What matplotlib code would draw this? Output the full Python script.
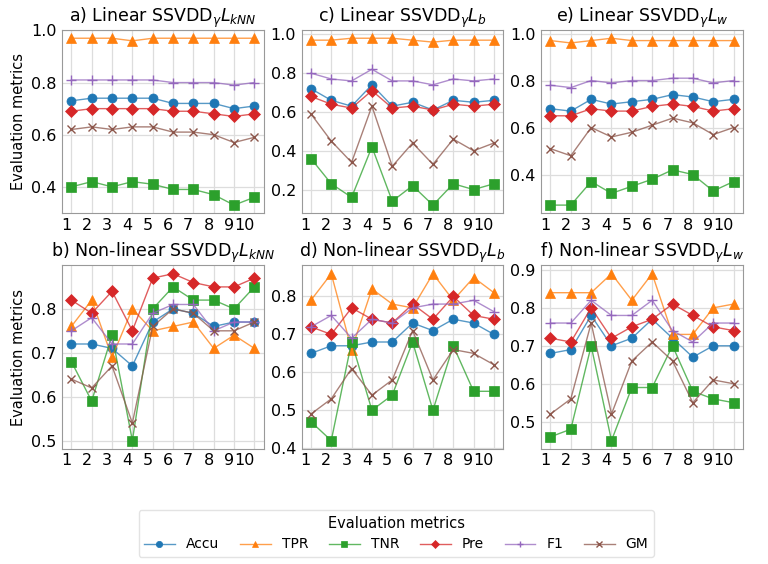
import matplotlib
matplotlib.use("Agg")
import matplotlib.pyplot as plt
import numpy as np

x = list(range(1, 11))
metrics = ["Accu", "TPR", "TNR", "Pre", "F1", "GM"]

# a) Linear kNN
a_accu = [.73, .74, .74, .74, .74, .72, .72, .72, .70, .71]
a_tpr = [.97, .97, .97, .96, .97, .97, .97, .97, .97, .97]
a_tnr = [.40, .42, .40, .42, .41, .39, .39, .37, .33, .36]
a_pre = [.69, .70, .70, .70, .70, .69, .69, .68, .67, .68]
a_f1 = [.81, .81, .81, .81, .81, .80, .80, .80, .79, .80]
a_gm = [.62, .63, .62, .63, .63, .61, .61, .60, .57, .59]

# b) Non-linear kNN
b_accu = [.72, .72, .71, .67, .77, .80, .79, .76, .77, .77]
b_tpr = [.76, .82, .69, .80, .75, .76, .77, .71, .74, .71]
b_tnr = [.68, .59, .74, .50, .80, .85, .82, .82, .80, .85]
b_pre = [.82, .79, .84, .75, .87, .88, .86, .85, .85, .87]
b_f1 = [.75, .78, .72, .72, .79, .81, .81, .75, .77, .77]
b_gm = [.64, .62, .67, .54, .76, .80, .79, .75, .75, .77]

# c) Linear Lb
c_accu = [.72, .66, .63, .74, .63, .65, .61, .66, .65, .66]
c_tpr = [.97, .97, .98, .98, .98, .97, .96, .97, .97, .97]
c_tnr = [.36, .23, .16, .42, .14, .22, .12, .23, .20, .23]
c_pre = [.68, .64, .62, .71, .62, .63, .61, .64, .63, .64]
c_f1 = [.80, .77, .76, .82, .76, .76, .74, .77, .76, .77]
c_gm = [.59, .45, .34, .63, .32, .44, .33, .46, .40, .44]

# d) Non-linear Lb
d_accu = [.65, .67, .67, .68, .68, .73, .71, .74, .73, .70]
d_tpr = [.79, .86, .66, .82, .78, .77, .86, .79, .85, .81]
d_tnr = [.47, .42, .68, .50, .54, .68, .50, .67, .55, .55]
d_pre = [.72, .70, .77, .74, .73, .78, .74, .80, .75, .74]
d_f1 = [.72, .75, .69, .74, .73, .77, .78, .78, .79, .76]
d_gm = [.49, .53, .61, .54, .58, .71, .58, .66, .65, .62]

# e) Linear Lw
e_accu = [.68, .67, .72, .70, .71, .72, .74, .73, .71, .72]
e_tpr = [.97, .96, .97, .98, .97, .97, .97, .97, .97, .97]
e_tnr = [.27, .27, .37, .32, .35, .38, .42, .40, .33, .37]
e_pre = [.65, .65, .68, .67, .67, .69, .70, .69, .67, .68]
e_f1 = [.78, .77, .80, .79, .80, .80, .81, .81, .79, .80]
e_gm = [.51, .48, .60, .56, .58, .61, .64, .62, .57, .60]

# f) Non-linear Lw
f_accu = [.68, .69, .78, .70, .72, .77, .72, .67, .70, .70]
f_tpr = [.84, .84, .84, .89, .82, .89, .73, .73, .80, .81]
f_tnr = [.46, .48, .70, .45, .59, .59, .70, .58, .56, .55]
f_pre = [.72, .71, .80, .72, .75, .77, .81, .78, .75, .74]
f_f1 = [.76, .76, .82, .78, .78, .82, .74, .71, .76, .76]
f_gm = [.52, .56, .76, .52, .66, .71, .66, .55, .61, .60]

titles = [
    r"a) Linear SSVDD$_{\gamma}L_{kNN}$",
    r"c) Linear SSVDD$_{\gamma}L_{b}$",
    r"e) Linear SSVDD$_{\gamma}L_{w}$",
    r"b) Non-linear SSVDD$_{\gamma}L_{kNN}$",
    r"d) Non-linear SSVDD$_{\gamma}L_{b}$",
    r"f) Non-linear SSVDD$_{\gamma}L_{w}$",
]
panels = [
    [a_accu, a_tpr, a_tnr, a_pre, a_f1, a_gm],
    [c_accu, c_tpr, c_tnr, c_pre, c_f1, c_gm],
    [e_accu, e_tpr, e_tnr, e_pre, e_f1, e_gm],
    [b_accu, b_tpr, b_tnr, b_pre, b_f1, b_gm],
    [d_accu, d_tpr, d_tnr, d_pre, d_f1, d_gm],
    [f_accu, f_tpr, f_tnr, f_pre, f_f1, f_gm],
]
yticks = [
    [0.4, 0.6, 0.8, 1.0],
    [0.2, 0.4, 0.6, 0.8, 1.0],
    [0.4, 0.6, 0.8, 1.0],
    [0.5, 0.6, 0.7, 0.8],
    [0.4, 0.5, 0.6, 0.7, 0.8],
    [0.5, 0.6, 0.7, 0.8, 0.9],
]

markers = ["o", "^", "s", "D", "+", "x"]
colors = ["#1f77b4", "#ff7f0e", "#2ca02c", "#d62728", "#9467bd", "#8c564b"]
msizes = [6.5, 6.5, 6.5, 6.5, 7, 6]

fig, axes = plt.subplots(2, 3, figsize=(7.68, 5.64), dpi=100)
fig.subplots_adjust(left=0.081, right=0.967, top=0.947, bottom=0.204,
                    wspace=0.19, hspace=0.283)

handles = []
for idx, ax in enumerate(axes.flat):
    series = panels[idx]
    for k in range(6):
        ln, = ax.plot(x, series[k], color=colors[k], linewidth=1.0, alpha=0.75)
        mk, = ax.plot(x, series[k], linestyle="none", marker=markers[k],
                      color=colors[k], markersize=msizes[k],
                      markeredgewidth=1.0 if markers[k] in "+x" else 0.5)
        if idx == 0:
            handles.append((ln, mk))
    ax.set_title(titles[idx], fontsize=12.5, pad=4)
    ax.set_xticks(x)
    ax.set_xticklabels([str(v) for v in x], ha="right")
    ax.set_yticks(yticks[idx])
    ax.tick_params(labelsize=11.5, length=0, pad=4)
    ax.tick_params(axis="x", pad=3)
    ax.grid(True, color="#dddddd", linewidth=0.9)
    ax.set_axisbelow(True)
    for s in ax.spines.values():
        s.set_color("#999999")
    if idx % 3 == 0:
        ax.set_ylabel("Evaluation metrics", fontsize=10.5)

leg = fig.legend(handles, metrics, loc="lower center", ncol=6,
                 bbox_to_anchor=(0.516, 0.0), title="Evaluation metrics",
                 fontsize=10, title_fontsize=10.5, frameon=True,
                 columnspacing=1.5, handlelength=2.2, markerscale=0.7)
leg.get_frame().set_edgecolor("#dddddd")

fig.savefig("out.png", dpi=100)
